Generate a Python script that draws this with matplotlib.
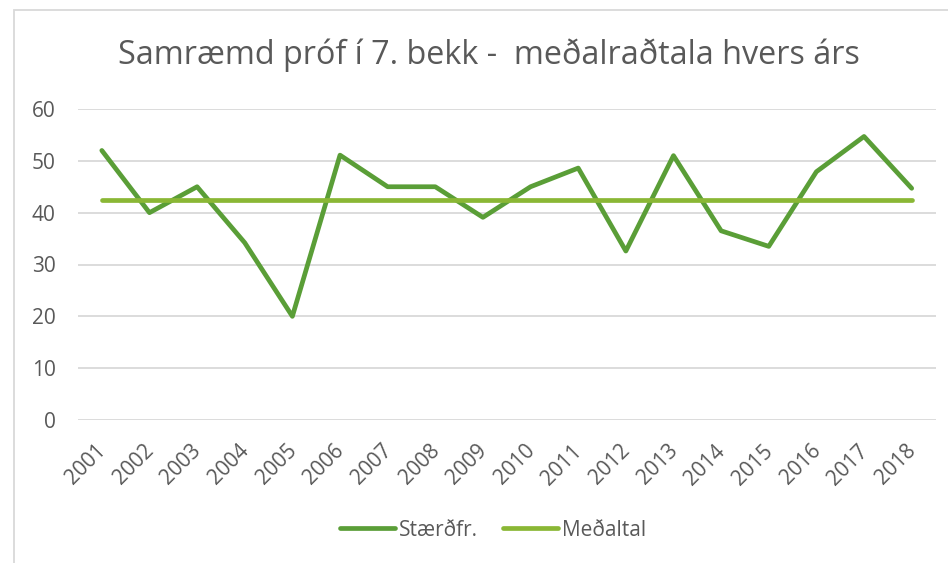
import matplotlib
matplotlib.use("Agg")
import matplotlib.pyplot as plt
import matplotlib.transforms as mtransforms
from matplotlib.patches import Rectangle

plt.rcParams['font.family'] = ['Open Sans', 'DejaVu Sans']

years = ['2001', '2002', '2003', '2004', '2005', '2006', '2007', '2008', '2009',
         '2010', '2011', '2012', '2013', '2014', '2015', '2016', '2017', '2018']
staerdfr = [52.0, 40.0, 45.0, 34.2, 20.0, 51.1, 45.0, 45.0, 39.1,
            45.0, 48.6, 32.6, 51.0, 36.5, 33.5, 47.9, 54.7, 44.7]
medaltal = [42.5] * len(years)

TXT = '#595959'
fig = plt.figure(figsize=(9.48, 5.63), dpi=100)
W, H = 948, 563

# outer chart frame (cut off at right/bottom)
fig.patches.append(Rectangle((14 / W, -0.1), 1.2, 1 - 10 / H + 0.1,
                             transform=fig.transFigure, fill=False,
                             edgecolor='#D9D9D9', linewidth=1.3))

ax = fig.add_axes([78 / W, 1 - 420 / H, (935.5 - 78) / W, (420 - 109) / H])
x = list(range(len(years)))
ax.plot(x, staerdfr, color='#5A9E37', linewidth=3.4, solid_capstyle='round',
        solid_joinstyle='round', label='Stærðfr.', zorder=3)
ax.plot(x, medaltal, color='#8AB735', linewidth=3.4, solid_capstyle='round',
        label='Meðaltal', zorder=3)

ax.set_xlim(-0.5, len(years) - 0.5)
ax.set_ylim(0, 60)
ax.set_yticks(range(0, 61, 10))
ax.grid(axis='y', color='#D9D9D9', linewidth=1.3)
ax.set_axisbelow(True)
for s in ax.spines.values():
    s.set_visible(False)
ax.tick_params(length=0, colors=TXT, labelsize=15)
ax.tick_params(axis='y', pad=16)
ax.set_xticks(x)
ax.set_xticklabels(years, rotation=45, ha='right', va='center',
                   rotation_mode='anchor')
off = mtransforms.ScaledTranslation(1 / 100, -23 / 100, fig.dpi_scale_trans)
for lbl in ax.get_xticklabels():
    lbl.set_transform(lbl.get_transform() + off)

fig.text(0.5 * (118 + 860) / W, 1 - 55 / H,
         'Samræmd próf í 7. bekk -  meðalraðtala hvers árs',
         ha='center', va='center', fontsize=23.3, color=TXT)

leg = fig.legend(loc='center', bbox_to_anchor=(493 / W, 1 - 530 / H), ncol=2,
                 frameon=False, fontsize=15, handlelength=2.65,
                 handletextpad=0.2, columnspacing=1.2, labelcolor=TXT)

fig.savefig('out.png', dpi=100)
